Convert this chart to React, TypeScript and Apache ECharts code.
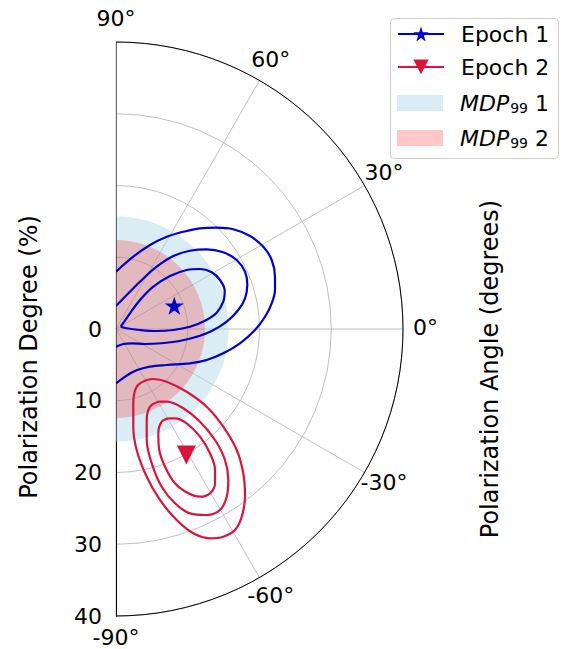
import React, { useEffect, useRef } from 'react';
import * as echarts from 'echarts';

const FONT = 'DejaVu Sans';
const BLUE = '#0000cd';
const RED = '#dc143c';
const MDP1_COLOR = 'rgba(173,216,230,0.45)';
const MDP2_COLOR = 'rgba(255,0,0,0.22)';

// Axis ticks
const radiusTicks = [0, 10, 20, 30, 40];
const angleTicks = [-90, -60, -30, 0, 30, 60, 90];

// Measured points: [polarization degree %, polarization angle deg]
const epoch1Point = [8.75, 21.8];
const epoch2Point = [20.1, -60.8];

// MDP99 radii (%)
const mdp99Epoch1 = 15.7;
const mdp99Epoch2 = 12.4;

// Contour vertices, as [PD·cos(PA), PD·sin(PA)] in %
const blueInner = [
  [0.66, 0.32], [1.95, 2.19], [3.34, 4.04], [5.2, 5.9], [7.53, 7.39], [9.85, 8.22],
  [11.71, 8.36], [13.34, 7.9], [14.49, 6.83], [15.15, 5.34], [14.95, 3.8], [14.03, 2.27],
  [12.4, 1.16], [10.31, 0.32], [7.99, -0.14], [5.67, -0.28], [3.34, -0.14], [1.49, 0.1],
  [0.66, 0.32],
];
const blueMiddle = [
  [0, 3.21], [1.49, 4.74], [3.34, 6.59], [5.67, 8.68], [7.99, 10.17], [10.31, 10.91],
  [12.64, 11.11], [14.95, 10.69], [16.82, 9.62], [17.98, 7.99], [18.3, 6.13], [17.98, 4.28],
  [17.04, 2.65], [15.43, 1.02], [13.34, -0.28], [11.01, -1.16], [8.68, -1.71], [6.37, -1.99],
  [4.04, -2.09], [2.19, -1.99], [1.02, -2.09], [0, -2.47],
];
const blueOuter = [
  [0, 7.99], [2.41, 10.08], [4.74, 11.71], [7.07, 12.86], [9.38, 13.56], [11.71, 14.03],
  [14.03, 14.12], [16.35, 13.9], [18.68, 12.96], [20.53, 11.47], [21.7, 9.62], [22.16, 7.29],
  [22.16, 5.44], [21.7, 3.58], [20.77, 1.71], [19.37, -0.14], [17.28, -1.99], [14.95, -3.39],
  [12.64, -4.32], [10.31, -4.78], [7.07, -5.02], [4.74, -5.25], [2.41, -5.95], [0, -7.57],
];
const redOuter = [
  [4.28, -7.11], [2.88, -8.04], [2.41, -10.36], [2.41, -13.62], [2.88, -16.86], [4.28, -20.59],
  [6.13, -23.83], [8.46, -26.62], [10.77, -28.47], [13.1, -29.17], [14.95, -28.95], [16.58, -28.01],
  [17.52, -26.16], [17.98, -23.37], [17.74, -20.11], [16.82, -16.86], [14.95, -13.62], [12.64, -10.83],
  [9.85, -8.74], [7.07, -7.34], [5.2, -6.97], [4.28, -7.11],
];
const redMiddle = [
  [5.9, -10.13], [4.74, -10.83], [4.28, -12.68], [4.28, -15.47], [4.98, -18.72], [6.37, -21.98],
  [8.22, -24.29], [10.31, -25.69], [12.64, -25.92], [14.49, -25.23], [15.43, -23.37], [15.65, -21.04],
  [15.19, -18.26], [13.8, -15.47], [11.71, -12.92], [9.38, -11.05], [7.07, -10.13], [5.9, -10.13],
];
const redInner = [
  [7.29, -12.45], [6.37, -12.92], [5.9, -14.54], [6.03, -16.86], [6.83, -19.19], [8.22, -21.5],
  [10.08, -22.9], [11.71, -23.37], [13.1, -22.9], [13.8, -21.5], [13.8, -19.65], [13.1, -17.32],
  [11.71, -15.01], [9.85, -13.14], [8.22, -12.45], [7.29, -12.45],
];

const legendNames = ['Epoch 1', 'Epoch 2', 'MDP99 1', 'MDP99 2'];

const STAR = 'path://M100,0 L122.45,69.1 L195.1,69.1 L136.33,111.8 L158.78,180.9 L100,138.2 L41.22,180.9 L63.67,111.8 L4.9,69.1 L77.55,69.1 Z';
const TRI_DOWN = 'path://M0,0 L20,0 L10,20 Z';

const toPolar = (pts: number[][]) =>
  pts.map(([x, y]) => [Math.hypot(x, y), (Math.atan2(y, x) * 180) / Math.PI]);

const contour = (pts: number[][], color: string) => ({
  type: 'line',
  coordinateSystem: 'polar',
  data: toPolar(pts),
  smooth: 0.35,
  showSymbol: false,
  symbol: 'none',
  silent: true,
  lineStyle: { color, width: 2.2 },
  z: 4,
});

const mdpSeries = (name: string, value: number, color: string, z: number) => ({
  type: 'custom',
  name,
  coordinateSystem: 'polar',
  silent: true,
  z,
  itemStyle: { color },
  data: [[value, 0]],
  renderItem: (params: any, api: any) => {
    const cs = params.coordSys;
    const p = api.coord([api.value(0), 0]);
    const rr = Math.hypot(p[0] - cs.cx, p[1] - cs.cy);
    return {
      type: 'sector',
      shape: { cx: cs.cx, cy: cs.cy, r0: 0, r: rr, startAngle: -Math.PI / 2, endAngle: Math.PI / 2, clockwise: true },
      style: { fill: api.visual('color') },
    };
  },
});

const baseGraphic: any[] = [
  {
    type: 'rect',
    z: 5,
    shape: { x: 390.5, y: 18.5, width: 168, height: 140, r: 4 },
    style: { fill: 'rgba(255,255,255,0.8)', stroke: '#cccccc', lineWidth: 1 },
  },
  {
    type: 'text',
    x: 29,
    y: 357,
    rotation: Math.PI / 2,
    style: {
      text: 'Polarization Degree (%)',
      fontSize: 24,
      fontFamily: FONT,
      fill: '#000',
      align: 'center',
      verticalAlign: 'middle',
    },
  },
  {
    type: 'text',
    x: 490,
    y: 369,
    rotation: Math.PI / 2,
    style: {
      text: 'Polarization Angle (degrees)',
      fontSize: 24,
      fontFamily: FONT,
      fill: '#000',
      align: 'center',
      verticalAlign: 'middle',
    },
  },
];

const option: any = {
  animation: false,
  backgroundColor: '#fff',
  polar: { center: [116, 329], radius: 287 },
  angleAxis: {
    type: 'value',
    min: angleTicks[0],
    max: angleTicks[angleTicks.length - 1],
    interval: 30,
    startAngle: -90,
    endAngle: 90,
    clockwise: false,
    axisLine: { show: true, lineStyle: { color: '#000', width: 1 } },
    axisTick: { show: false },
    axisLabel: { show: false },
    splitLine: { show: true, lineStyle: { color: '#b0b0b0', width: 0.8 } },
  },
  radiusAxis: {
    type: 'value',
    min: radiusTicks[0],
    max: radiusTicks[radiusTicks.length - 1],
    interval: 10,
    axisLine: { show: true, lineStyle: { color: '#000', width: 1 } },
    axisTick: { show: false },
    axisLabel: {
      fontSize: 22,
      fontFamily: FONT,
      color: '#000',
      margin: -14,
      align: 'right',
      verticalAlign: 'middle',
    },
    splitLine: { show: true, lineStyle: { color: '#b0b0b0', width: 0.8 } },
  },
  legend: [
    {
      data: [legendNames[0], legendNames[1]],
      orient: 'vertical',
      left: 397,
      top: 23,
      padding: 0,
      itemWidth: 46,
      itemHeight: 19,
      itemGap: 11,
      selectedMode: false,
      z: 6,
      textStyle: { fontSize: 22, fontFamily: FONT, color: '#000', padding: [0, 0, 0, 12] },
    },
    {
      data: [
        { name: legendNames[2], icon: 'rect' },
        { name: legendNames[3], icon: 'rect' },
      ],
      orient: 'vertical',
      left: 397,
      top: 92,
      padding: 0,
      itemWidth: 46,
      itemHeight: 16,
      itemGap: 12,
      selectedMode: false,
      z: 6,
      formatter: (name: string) => (name === legendNames[2] ? '{i|MDP}{s|99}{n| 1}' : '{i|MDP}{s|99}{n| 2}'),
      textStyle: {
        fontSize: 22,
        fontFamily: FONT,
        color: '#000',
        padding: [0, 0, 0, 12],
        rich: {
          i: { fontSize: 22, fontStyle: 'italic', fontFamily: FONT, color: '#000' },
          s: { fontSize: 14, fontFamily: FONT, color: '#000', padding: [10, 0, 0, 1] },
          n: { fontSize: 22, fontFamily: FONT, color: '#000' },
        },
      },
    },
  ],
  graphic: baseGraphic,
  series: [
    mdpSeries(legendNames[2], mdp99Epoch1, MDP1_COLOR, 1),
    mdpSeries(legendNames[3], mdp99Epoch2, MDP2_COLOR, 1),
    {
      type: 'line',
      coordinateSystem: 'polar',
      data: [[radiusTicks[radiusTicks.length - 1], 90], [0, 90]],
      symbol: 'none',
      silent: true,
      lineStyle: { color: '#000', width: 1 },
      z: 3,
    },
    contour(blueOuter, BLUE),
    contour(blueMiddle, BLUE),
    contour(blueInner, BLUE),
    contour(redOuter, RED),
    contour(redMiddle, RED),
    contour(redInner, RED),
    {
      type: 'line',
      name: legendNames[0],
      coordinateSystem: 'polar',
      data: [epoch1Point],
      symbol: STAR,
      symbolSize: [19, 18],
      itemStyle: { color: BLUE },
      lineStyle: { color: BLUE, width: 2 },
      z: 5,
    },
    {
      type: 'line',
      name: legendNames[1],
      coordinateSystem: 'polar',
      data: [epoch2Point],
      symbol: TRI_DOWN,
      symbolSize: [19, 19],
      itemStyle: { color: RED },
      lineStyle: { color: RED, width: 2 },
      z: 5,
    },
  ],
};

export default function App() {
  const ref = useRef<HTMLDivElement>(null);
  useEffect(() => {
    const chart = echarts.init(ref.current!, null, { renderer: 'svg' });
    chart.setOption(option);
    // Angle tick labels, centred at a fixed radial pad outside the outer arc
    const finder = { seriesIndex: 2 };
    const rMax = radiusTicks[radiusTicks.length - 1];
    const c = chart.convertToPixel(finder, [0, 0]) as number[];
    const pad = 22.5;
    const labels = angleTicks.map((a) => {
      const p = chart.convertToPixel(finder, [rMax, a]) as number[];
      const dx = p[0] - c[0];
      const dy = p[1] - c[1];
      const d = Math.hypot(dx, dy) || 1;
      return {
        type: 'text',
        x: p[0] + (dx / d) * pad,
        y: p[1] + (dy / d) * pad - 1.5,
        z: 3,
        style: {
          text: `${a}°`,
          fontSize: 22,
          fontFamily: FONT,
          fill: '#000',
          align: 'center',
          verticalAlign: 'middle',
        },
      };
    });
    chart.setOption({ graphic: [...baseGraphic, ...labels] });
    return () => chart.dispose();
  }, []);
  return (
    <div
      ref={ref}
      style={{ position: 'fixed', left: 0, top: 0, width: 569, height: 649, background: '#fff' }}
    />
  );
}
